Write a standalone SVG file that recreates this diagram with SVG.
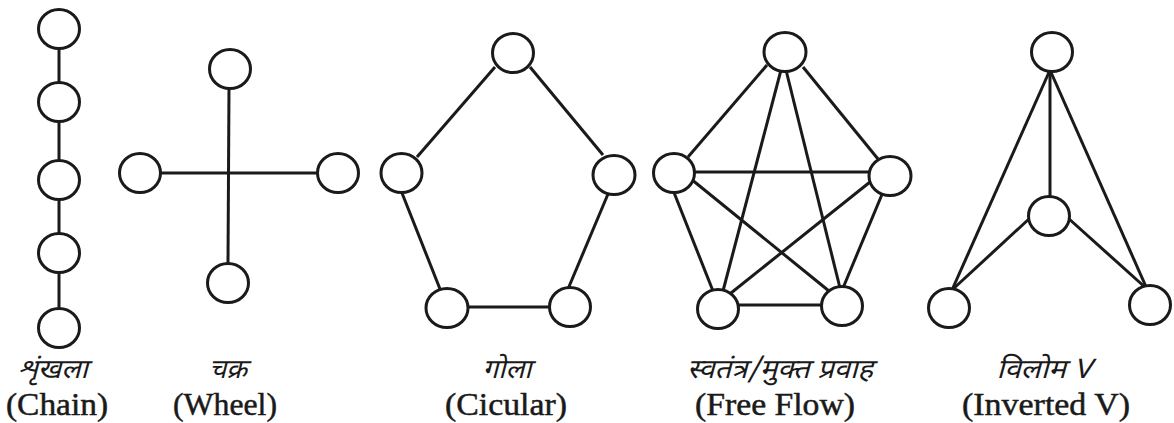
<svg xmlns="http://www.w3.org/2000/svg" width="1174" height="423" viewBox="0 0 1174 423">
<style>
.n{fill:#fff;stroke:#1a1a1a;stroke-width:3}
.e line{stroke:#1a1a1a;stroke-width:3;stroke-linecap:butt}
.hi{font-family:"Noto Sans Devanagari","Noto Serif Devanagari","Lohit Devanagari","Noto Sans",sans-serif;font-size:27px;font-style:italic;fill:#1a1a1a;text-anchor:middle}
.en{font-family:"Liberation Serif","Times New Roman",serif;font-size:32px;fill:#1a1a1a;stroke:#1a1a1a;stroke-width:0.5;text-anchor:middle}
</style>
<rect width="1174" height="423" fill="#fff"/>
<g id="connectors" class="e">
<line x1="59" y1="48" x2="59" y2="83"/>
<line x1="59" y1="122" x2="59" y2="161"/>
<line x1="59" y1="199" x2="59" y2="234"/>
<line x1="59" y1="272" x2="59" y2="309"/>
<line x1="229" y1="87" x2="228" y2="263"/>
<line x1="160" y1="173" x2="318" y2="173"/>
<line x1="495" y1="67" x2="417" y2="157"/>
<line x1="530" y1="67" x2="603" y2="155"/>
<line x1="402" y1="193" x2="440" y2="289"/>
<line x1="608" y1="194" x2="568" y2="289"/>
<line x1="467" y1="307" x2="551" y2="307"/>
<line x1="767" y1="65" x2="688" y2="157"/>
<line x1="803" y1="67" x2="878" y2="159"/>
<line x1="781" y1="70" x2="723" y2="291"/>
<line x1="786" y1="70" x2="840" y2="288"/>
<line x1="694" y1="172" x2="870" y2="172"/>
<line x1="673" y1="190" x2="713" y2="291"/>
<line x1="691" y1="179" x2="829" y2="291"/>
<line x1="870" y1="182" x2="731" y2="293"/>
<line x1="883" y1="192" x2="843" y2="288"/>
<line x1="738" y1="305" x2="823" y2="305"/>
<line x1="1050" y1="70" x2="952" y2="290"/>
<line x1="1050" y1="70" x2="1147" y2="289"/>
<line x1="1050" y1="70" x2="1050" y2="198"/>
<line x1="1030" y1="218" x2="952" y2="290"/>
<line x1="1068" y1="218" x2="1147" y2="289"/>
</g>
<g id="chain">
<ellipse class="n" cx="59" cy="29" rx="20.5" ry="19.5"/>
<ellipse class="n" cx="59" cy="102" rx="20.5" ry="19.5"/>
<ellipse class="n" cx="59" cy="180" rx="20.5" ry="19.5"/>
<ellipse class="n" cx="59" cy="253" rx="20.5" ry="19.5"/>
<ellipse class="n" cx="59" cy="328" rx="20.5" ry="19.5"/>
</g>
<g id="wheel">
<ellipse class="n" cx="230" cy="69" rx="20.5" ry="19.5"/>
<ellipse class="n" cx="140" cy="173" rx="20.5" ry="19.5"/>
<ellipse class="n" cx="338" cy="173" rx="20.5" ry="19.5"/>
<ellipse class="n" cx="228" cy="283" rx="20.5" ry="19.5"/>
</g>
<g id="circular">
<ellipse class="n" cx="513" cy="53" rx="20.5" ry="19.5"/>
<ellipse class="n" cx="401.5" cy="173" rx="20.5" ry="19.5"/>
<ellipse class="n" cx="614" cy="175" rx="21" ry="19.5"/>
<ellipse class="n" cx="447" cy="308" rx="21" ry="19.5"/>
<ellipse class="n" cx="570" cy="307" rx="20.5" ry="19.5"/>
</g>
<g id="freeflow">
<ellipse class="n" cx="785" cy="52" rx="21" ry="19.5"/>
<ellipse class="n" cx="674" cy="173" rx="20.5" ry="19.5"/>
<ellipse class="n" cx="890" cy="176" rx="21" ry="19.5"/>
<ellipse class="n" cx="718" cy="309" rx="20.5" ry="19.5"/>
<ellipse class="n" cx="842" cy="306" rx="20.5" ry="19.5"/>
</g>
<g id="invertedv">
<ellipse class="n" cx="1052" cy="52" rx="20.5" ry="19.5"/>
<ellipse class="n" cx="1049" cy="216" rx="20.5" ry="19.5"/>
<ellipse class="n" cx="949" cy="308" rx="20.5" ry="19.5"/>
<ellipse class="n" cx="1150" cy="305" rx="20.5" ry="19.5"/>
</g>
<g id="labels">
<text class="hi" x="53" y="378" textLength="70" lengthAdjust="spacingAndGlyphs">शृंखला</text>
<text class="hi" x="228" y="378" textLength="38" lengthAdjust="spacingAndGlyphs">चक्र</text>
<text class="hi" x="507" y="378" textLength="49" lengthAdjust="spacingAndGlyphs">गोला</text>
<text class="hi" x="780" y="378" textLength="186" lengthAdjust="spacingAndGlyphs">स्वतंत्र/मुक्त प्रवाह</text>
<text class="hi" x="1044" y="378" textLength="95" lengthAdjust="spacingAndGlyphs">विलोम V</text>
<text class="en" x="57" y="415" textLength="102" lengthAdjust="spacingAndGlyphs">(Chain)</text>
<text class="en" x="225" y="415" textLength="104" lengthAdjust="spacingAndGlyphs">(Wheel)</text>
<text class="en" x="506" y="415" textLength="122" lengthAdjust="spacingAndGlyphs">(Cicular)</text>
<text class="en" x="775" y="415" textLength="160" lengthAdjust="spacingAndGlyphs">(Free Flow)</text>
<text class="en" x="1046" y="415" textLength="168" lengthAdjust="spacingAndGlyphs">(Inverted V)</text>
</g>
</svg>
